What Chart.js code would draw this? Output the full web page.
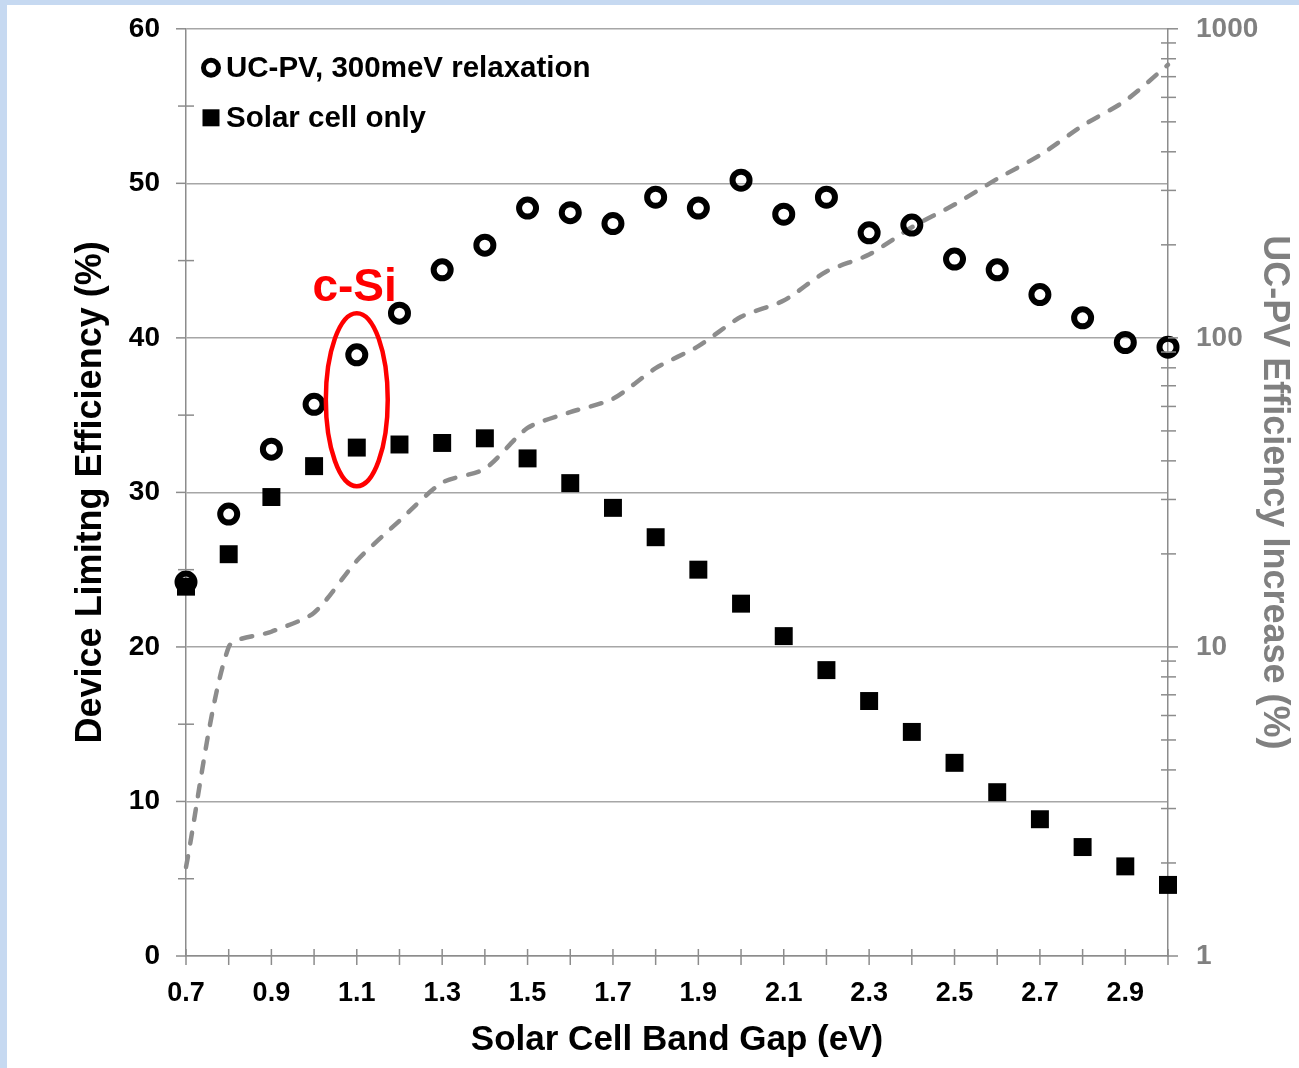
<!DOCTYPE html>
<html><head><meta charset="utf-8">
<script src="https://cdn.jsdelivr.net/npm/chart.js@4.4.1/dist/chart.umd.min.js"></script>
<style>
html,body{margin:0;padding:0;background:#C6D9F1;width:1299px;height:1068px;overflow:hidden}
#wrap{position:absolute;left:7px;top:5px;width:1292px;height:1063px;background:#fff;overflow:hidden}
canvas{display:block;margin-top:-21px}
</style></head><body>
<div id="wrap"><canvas id="c" width="1292" height="1084"></canvas></div>
<script>
// ---- data ----
const bandGap  = [0.7,0.8,0.9,1.0,1.1,1.2,1.3,1.4,1.5,1.6,1.7,1.8,1.9,2.0,2.1,2.2,2.3,2.4,2.5,2.6,2.7,2.8,2.9,3.0];
const ucpvEff  = [24.2,28.6,32.8,35.7,38.9,41.6,44.4,46.0,48.4,48.1,47.4,49.1,48.4,50.2,48.0,49.1,46.8,47.3,45.1,44.4,42.8,41.3,39.7,39.4];
const cellEff  = [23.9,26.0,29.7,31.7,32.9,33.1,33.2,33.5,32.2,30.6,29.0,27.1,25.0,22.8,20.7,18.5,16.5,14.5,12.5,10.6,8.85,7.05,5.8,4.6];
const increase = [1.94,10.0,11.2,12.9,19.0,25.6,34.0,37.7,51.1,57.5,63.5,79.8,94.0,117,132,164,186,228,270,327,390,486,585,765];
const xTickLabels = ['0.7','0.9','1.1','1.3','1.5','1.7','1.9','2.1','2.3','2.5','2.7','2.9'];
const leftTicks  = [0,10,20,30,40,50,60];
const rightTicks = [1,10,100,1000];
const seriesNames = ['UC-PV, 300meV relaxation','Solar cell only'];
const annotationText = 'c-Si';

const FONT = "'Liberation Sans', Arial, sans-serif";
const NARROW = "'Liberation Sans Narrow', 'Liberation Sans', Arial, sans-serif";
const AXIS = '#8C8C8C';
const GRID = '#A6A6A6';
const GREY_TEXT = '#808080';

const toXY = arr => bandGap.map((x,i)=>({x, y: arr[i]}));

const tickPlugin = {
  id:'customTicks',
  afterDraw(chart){
    const {ctx, chartArea:{left,right,top,bottom}, scales:{x,y,y2}} = chart;
    ctx.save();
    ctx.strokeStyle = AXIS; ctx.lineWidth = 1.5;
    const line=(a,b,c,d)=>{ctx.beginPath();ctx.moveTo(a,b);ctx.lineTo(c,d);ctx.stroke();};
    bandGap.forEach(v=>{const p=x.getPixelForValue(v); line(p,bottom-7,p,bottom+9);});
    leftTicks.forEach(v=>{const p=y.getPixelForValue(v); line(left-10,p,left,p);});
    for(let v=5; v<60; v+=10){const p=y.getPixelForValue(v); line(left-8,p,left+8,p);}
    rightTicks.forEach(v=>{const p=y2.getPixelForValue(v); line(right,p,right+10,p);});
    for(let d=1; d<1000; d*=10){ for(let m=2;m<=9;m++){const p=y2.getPixelForValue(d*m); line(right-7,p,right+8,p);} }
    ctx.restore();
  }
};

const annotationPlugin = {
  id:'annot',
  afterDraw(chart){
    const {ctx, chartArea:{left,top}, scales:{x,y}} = chart;
    ctx.save();
    const cx = x.getPixelForValue(1.1);
    const rx = x.getPixelForValue(1.1725) - cx;
    const yTop = y.getPixelForValue(41.6), yBot = y.getPixelForValue(30.4);
    ctx.strokeStyle = '#FF0000'; ctx.lineWidth = 4.5;
    ctx.beginPath(); ctx.ellipse(cx, (yTop+yBot)/2, rx, (yBot-yTop)/2, 0, 0, Math.PI*2); ctx.stroke();
    ctx.fillStyle = '#FF0000'; ctx.font = "bold 46px " + FONT;
    ctx.textAlign='center'; ctx.textBaseline='alphabetic';
    ctx.fillText(annotationText, x.getPixelForValue(1.095), y.getPixelForValue(42.4));
    // legend
    ctx.fillStyle='#000'; ctx.strokeStyle='#000';
    const lx = left + 25;
    const ly1 = top + 39, ly2 = top + 89;
    ctx.lineWidth = 5;
    ctx.beginPath(); ctx.arc(lx, ly1, 7.5, 0, Math.PI*2); ctx.stroke();
    ctx.fillRect(lx-8.5, ly2-8.5, 17, 17);
    ctx.font = "bold 29.5px " + FONT; ctx.textAlign='left'; ctx.textBaseline='middle';
    ctx.fillText(seriesNames[0], lx+15, ly1+1);
    ctx.fillText(seriesNames[1], lx+15, ly2+1);
    ctx.restore();
  }
};

new Chart(document.getElementById('c'), {
  type:'scatter',
  data:{
    datasets:[
      {label:seriesNames[0], data:toXY(ucpvEff), yAxisID:'y', pointStyle:'circle', pointRadius:8.5,
       borderColor:'#000', backgroundColor:'rgba(0,0,0,0)', borderWidth:6, showLine:false, order:0, clip:false},
      {label:seriesNames[1], data:toXY(cellEff), yAxisID:'y', pointStyle:'rect', pointRadius:12.7,
       borderColor:'#000', backgroundColor:'#000', borderWidth:0, showLine:false, order:1, clip:false},
      {label:'UC-PV Efficiency Increase', type:'line', data:toXY(increase), yAxisID:'y2', showLine:true,
       borderColor:'#8C8C8C', borderWidth:4.5, borderDash:[11,13], borderCapStyle:'round',
       pointRadius:0, tension:0.25, fill:false, order:2, clip:false}
    ]
  },
  options:{
    responsive:false, animation:false, events:[], devicePixelRatio:1,
    layout:{padding:{left:0,right:0,top:22,bottom:0}},
    plugins:{legend:{display:false}, tooltip:{enabled:false}},
    scales:{
      x:{type:'linear', position:'bottom', min:0.7, max:3.0,
         afterBuildTicks:s=>{s.ticks = bandGap.map(v=>({value:v}));},
         afterFit:s=>{s.height = 112;},
         ticks:{autoSkip:false, maxRotation:0, padding:21, color:'#000',
                font:{family:NARROW, size:27, weight:'bold'},
                callback:v=>{const t=Number(v).toFixed(1); return xTickLabels.includes(t)?t:'';}},
         grid:{display:true, drawOnChartArea:false, drawTicks:false},
         border:{display:true, color:AXIS, width:1.5},
         title:{display:true, text:'Solar Cell Band Gap (eV)', color:'#000',
                font:{family:FONT, size:35, weight:'bold'}, padding:{top:0,bottom:7}}
      },
      y:{type:'linear', position:'left', min:0, max:60,
         afterBuildTicks:s=>{s.ticks = leftTicks.map(v=>({value:v}));},
         afterFit:s=>{s.width = 179;},
         ticks:{padding:26, color:'#000', font:{family:FONT, size:28, weight:'bold'}},
         grid:{color:GRID, lineWidth:1.5, drawTicks:false},
         border:{display:true, color:AXIS, width:1.5},
         title:{display:true, text:'Device Limitng Efficiency (%)', color:'#000',
                font:{family:FONT, size:36, weight:'bold'}, padding:{top:62,bottom:0}}
      },
      y2:{type:'logarithmic', position:'right', min:1, max:1000,
         afterBuildTicks:s=>{s.ticks = rightTicks.map(v=>({value:v}));},
         afterFit:s=>{s.width = 131;},
         ticks:{padding:28, color:GREY_TEXT, font:{family:FONT, size:28, weight:'bold'},
                callback:v=>String(v)},
         grid:{display:true, drawOnChartArea:false, drawTicks:false},
         border:{display:true, color:AXIS, width:1.5},
         title:{display:true, text:'UC-PV Efficiency Increase (%)', color:GREY_TEXT,
                font:{family:FONT, size:36, weight:'bold'}, padding:{top:3,bottom:0}}
      }
    }
  },
  plugins:[tickPlugin, annotationPlugin]
});
</script>
</body></html>
